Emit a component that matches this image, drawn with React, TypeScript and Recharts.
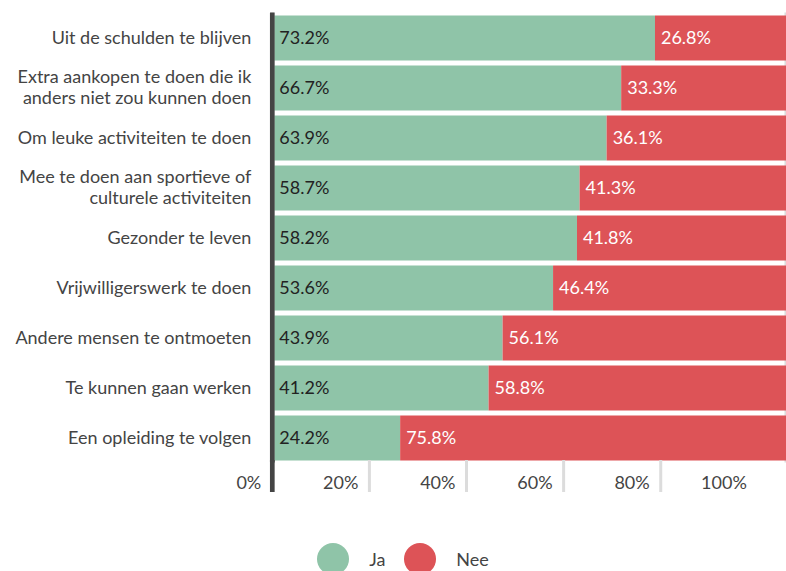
import React from 'react';
import { BarChart, Bar, XAxis, YAxis, CartesianGrid, LabelList, Legend } from 'recharts';

const categories = [
  'Uit de schulden te blijven',
  'Extra aankopen te doen die ik\nanders niet zou kunnen doen',
  'Om leuke activiteiten te doen',
  'Mee te doen aan sportieve of\nculturele activiteiten',
  'Gezonder te leven',
  'Vrijwilligerswerk te doen',
  'Andere mensen te ontmoeten',
  'Te kunnen gaan werken',
  'Een opleiding te volgen',
];
const jaValues = [73.2, 66.7, 63.9, 58.7, 58.2, 53.6, 43.9, 41.2, 24.2];
const neeValues = [26.8, 33.3, 36.1, 41.3, 41.8, 46.4, 56.1, 58.8, 75.8];
const tickValues = [0, 20, 40, 60, 80, 100];
const gridValues = [20, 40, 60, 80];

const GREEN = '#8fc4a8';
const RED = '#dd5357';
const FONT = 'Lato, "Noto Sans", sans-serif';
const TEXT = '#444444';

const data = categories.map((name, i) => ({ name, ja: jaValues[i], nee: neeValues[i] }));

const YTick = (props: any) => {
  const { x, y, payload } = props;
  const lines = String(payload.value).split('\n');
  const lh = 21;
  const start = -((lines.length - 1) * lh) / 2;
  return (
    <text x={x} y={y} textAnchor="end" fill={TEXT} fontSize={18} fontFamily={FONT}>
      {lines.map((l, i) => (
        <tspan key={i} x={x} y={y + start + i * lh} dy="0.36em">
          {l}
        </tspan>
      ))}
    </text>
  );
};

const BottomTick = (props: any) => {
  const { x, y, payload } = props;
  const v = payload.value;
  return (
    <g>
      {v > 0 && v < 100 && (
        <line x1={x} x2={x} y1={y - 2.5} y2={y + 29.5} stroke="#dcdcdc" strokeWidth={3} />
      )}
      {v === 0 && <line x1={x} x2={x} y1={y - 2.5} y2={y + 29.5} stroke="#444" strokeWidth={4.7} />}
      <text x={x - 11} y={y + 26.5} textAnchor="end" fill={TEXT} fontSize={18} fontFamily={FONT}>
        {v}%
      </text>
    </g>
  );
};

const makeLabel = (color: string, pad: number) => (props: any) => {
  const { x, y, height, value } = props;
  return (
    <text
      x={Number(x) + pad}
      y={Number(y) + Number(height) / 2}
      dy="0.36em"
      fill={color}
      fontSize={18}
      fontFamily={FONT}
    >
      {Number(value).toFixed(1)}%
    </text>
  );
};

const LegendContent = () => {
  const items = [
    { label: 'Ja', color: GREEN },
    { label: 'Nee', color: RED },
  ];
  return (
    <div
      style={{
        display: 'flex',
        justifyContent: 'center',
        alignItems: 'center',
        paddingLeft: 20,
        fontFamily: FONT,
        fontSize: 18,
        color: TEXT,
      }}
    >
      {items.map((it, i) => (
        <div key={it.label} style={{ display: 'flex', alignItems: 'center', marginLeft: i === 0 ? 0 : 19 }}>
          <span
            style={{ width: 32, height: 32, borderRadius: 16, background: it.color, display: 'inline-block' }}
          />
          <span style={{ marginLeft: 20 }}>{it.label}</span>
        </div>
      ))}
    </div>
  );
};

export default function App() {
  return (
    <div style={{ position: 'absolute', left: 0, top: 0, width: 786, height: 571, overflow: 'hidden' }}>
      <BarChart
        width={786}
        height={571}
        data={data}
        layout="vertical"
        margin={{ top: 12.5, right: 0, bottom: 68.5, left: 0 }}
        barSize={45}
      >
        <CartesianGrid
          horizontal={false}
          vertical={true}
          xAxisId="bars"
          stroke="#dcdcdc"
          strokeWidth={3}
        />
        <XAxis
          xAxisId="bars"
          type="number"
          orientation="top"
          domain={[-0.384, 98.39]}
          allowDataOverflow
          ticks={gridValues}
          height={0}
          tick={false}
          axisLine={false}
          tickLine={false}
        />
        <XAxis
          xAxisId="ticks"
          type="number"
          orientation="bottom"
          domain={[0, 105.8]}
          allowDataOverflow
          ticks={tickValues}
          height={40}
          tickSize={0}
          tickMargin={0}
          axisLine={false}
          tickLine={false}
          tick={<BottomTick />}
          interval={0}
        />
        <YAxis
          type="category"
          dataKey="name"
          width={272.3}
          axisLine={{ stroke: '#444', strokeWidth: 4.7 }}
          tickLine={false}
          tickSize={0}
          tickMargin={21}
          tick={<YTick />}
          interval={0}
        />
        <Legend
          layout="vertical"
          align="center"
          verticalAlign="middle"
          content={<LegendContent />}
          wrapperStyle={{ position: 'absolute', left: 0, top: 542.5, width: 786, height: 32 }}
        />
        <Bar dataKey="ja" name="Ja" stackId="a" xAxisId="bars" fill={GREEN} isAnimationActive={false}>
          <LabelList dataKey="ja" content={makeLabel('#222222', 5)} />
        </Bar>
        <Bar dataKey="nee" name="Nee" stackId="a" xAxisId="bars" fill={RED} isAnimationActive={false}>
          <LabelList dataKey="nee" content={makeLabel('#ffffff', 6)} />
        </Bar>
      </BarChart>
    </div>
  );
}
